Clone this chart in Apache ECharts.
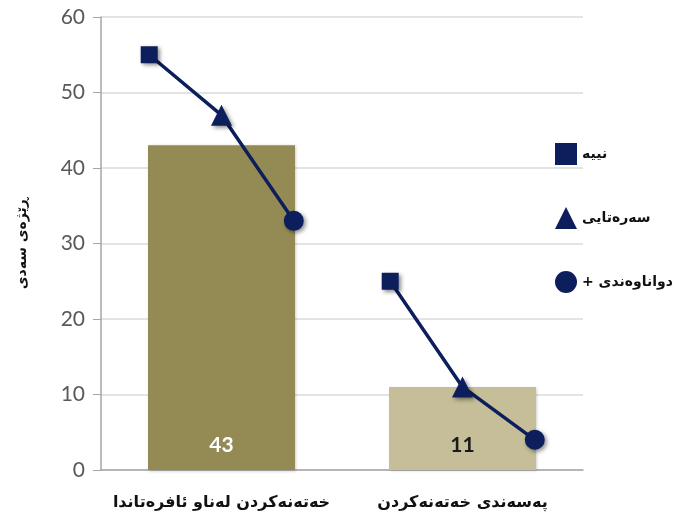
<!DOCTYPE html>
<html>
<head>
<meta charset="utf-8">
<script src="https://cdn.jsdelivr.net/npm/echarts@6/dist/echarts.min.js"></script>
<style>html,body{margin:0;padding:0;background:#fff}#c{width:674px;height:521px}</style>
</head>
<body>
<div id="c"></div>
<script>
var categories = ['خەتەنەکردن لەناو ئافرەتاندا', 'پەسەندی خەتەنەکردن'];
var barValues = [43, 11];
var groupNames = ['نییە', 'سەرەتایی', 'دواناوەندی +\u200F'];
var noneValues = [55, 25];
var primaryValues = [47, 11];
var secondaryValues = [33, 4];
var yTicks = [0, 10, 20, 30, 40, 50, 60];
var yAxisName = 'ڕێژەی سەدی';

var navy = '#0C1E5B';
var barColors = ['#948B54', '#C5BE98'];
var labelColors = ['#ffffff', '#1a1a1a'];
var offsets = [-0.3, 0, 0.3];
var groups = [noneValues, primaryValues, secondaryValues];
var symbols = ['rect', 'triangle', 'circle'];
var symbolSizes = [17, 21, 20];
var shadow = {shadowBlur: 4, shadowOffsetX: 2, shadowOffsetY: 2, shadowColor: 'rgba(0,0,0,0.45)'};

var series = [{
  type: 'bar', xAxisIndex: 0, yAxisIndex: 0, barWidth: '61%',
  data: barValues.map(function (v, i) {
    return {value: v, itemStyle: {color: barColors[i]},
      label: {color: labelColors[i]}};
  }),
  itemStyle: {shadowBlur: 3, shadowOffsetX: 1, shadowOffsetY: 1, shadowColor: 'rgba(0,0,0,0.25)'},
  label: {show: true, position: 'insideBottom', distance: 14, fontSize: 21, fontWeight: 'bold', fontFamily: 'Lato'},
  silent: true
}];
categories.forEach(function (c, i) {
  series.push({
    type: 'line', xAxisIndex: 1, yAxisIndex: 0, showSymbol: false, silent: true,
    lineStyle: {color: navy, width: 3.5},
    data: groups.map(function (g, k) { return [i + offsets[k], g[i]]; }),
    z: 3
  });
});
groupNames.forEach(function (n, k) {
  series.push({
    name: n, type: 'scatter', xAxisIndex: 1, yAxisIndex: 0,
    symbol: symbols[k], symbolSize: symbolSizes[k],
    itemStyle: Object.assign({color: navy, opacity: 1}, shadow),
    data: categories.map(function (c, i) { return [i + offsets[k], groups[k][i]]; }),
    z: 4
  });
});

var chart = echarts.init(document.getElementById('c'));
chart.setOption({
  animation: false,
  grid: {left: 101, right: 91, top: 17, bottom: 51},
  legend: {
    orient: 'vertical', left: 550, top: 138, itemGap: 42, align: 'left',
    itemWidth: 22, itemHeight: 22,
    itemStyle: {opacity: 1, shadowBlur: 0, shadowOffsetX: 0, shadowOffsetY: 0},
    textStyle: {fontSize: 14, fontWeight: 'bold', color: '#111', fontFamily: 'DejaVu Sans'},
    data: groupNames.map(function (n, k) { return {name: n, icon: symbols[k]}; })
  },
  xAxis: [{
    type: 'category', data: categories,
    axisLine: {lineStyle: {color: '#A6A6A6', width: 1.5}},
    axisTick: {show: false},
    axisLabel: {interval: 0, fontSize: 16, fontWeight: 'bold', color: '#111', margin: 25, fontFamily: 'DejaVu Sans'}
  }, {
    type: 'value', min: -0.5, max: 1.5, show: false,
    axisLine: {show: false}, splitLine: {show: false}
  }],
  yAxis: [{
    type: 'value', min: yTicks[0], max: yTicks[yTicks.length - 1], interval: 10,
    name: yAxisName, nameLocation: 'middle', nameGap: 72, nameRotate: 90,
    nameTextStyle: {fontSize: 14, fontWeight: 'bold', color: '#111', fontFamily: 'DejaVu Sans'},
    axisLine: {show: true, onZero: false, lineStyle: {color: '#A6A6A6', width: 1.5}},
    axisTick: {show: true, length: 8, lineStyle: {color: '#A6A6A6'}},
    axisLabel: {fontSize: 21, color: '#595959', margin: 16, fontFamily: 'Lato'},
    splitLine: {lineStyle: {color: '#DADADA', width: 1.5}}
  }],
  series: series
});
</script>
</body>
</html>
